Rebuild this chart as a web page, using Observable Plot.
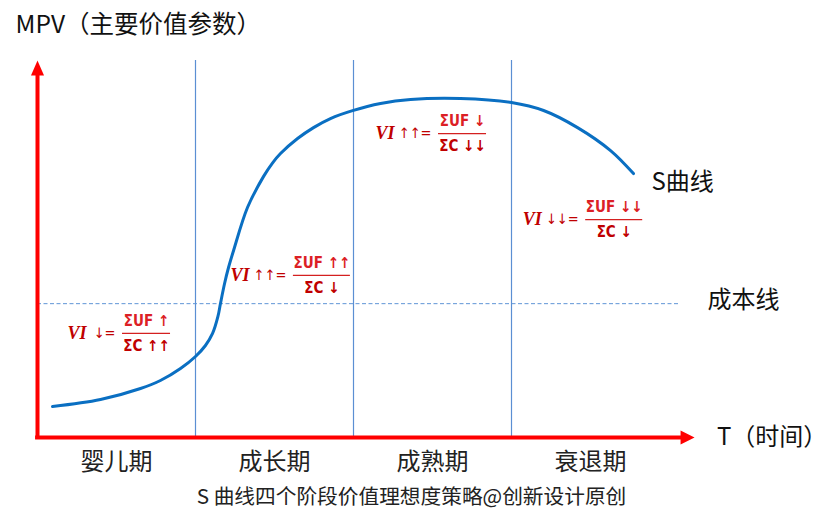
<!DOCTYPE html>
<html><head><meta charset="utf-8">
<script src="https://cdn.jsdelivr.net/npm/d3@7"></script>
<script src="https://cdn.jsdelivr.net/npm/@observablehq/plot@0.6"></script>
<style>body{margin:0;background:#fff} svg{display:block}</style>
</head><body><div id="chart"></div>
<script>
// ---- data ----
const phases = ["婴儿期", "成长期", "成熟期", "衰退期"];
const phaseBounds = [1, 2, 3];
const curveT   = [0.095, 0.399, 0.652, 0.778, 0.905, 1.000, 1.063, 1.108, 1.142, 1.158, 1.184, 1.209, 1.241, 1.329, 1.430, 1.487, 1.538, 1.646, 1.747, 1.854, 1.994, 2.171, 2.361, 2.677, 3.000, 3.203, 3.418, 3.627, 3.772];
const curveMPV = [8.22, 10.08, 13.0, 15.12, 18.3, 21.49, 24.4, 27.59, 32.1, 35.54, 40.85, 45.09, 49.6, 61.0, 69.2, 72.8, 75.33, 79.3, 82.2, 84.6, 86.7, 88.6, 89.66, 89.92, 88.86, 86.74, 82.2, 76.1, 70.0];
const costLevel = 35.5;
const viArrows = ["↓", "↑↑", "↑↑", "↓↓"];
const ufArrows = ["↑", "↑↑", "↓", "↓↓"];
const cArrows  = ["↑↑", "↓", "↓↓", "↓"];
const formulaT   = [0.69, 1.80, 2.69, 3.65];
const formulaMPV = [27.6, 43.0, 80.6, 57.8];
const yTitle = "MPV（主要价值参数）";
const xTitle = "T（时间）";
const curveLabel = "S曲线";
const costLabel = "成本线";
const captionText = "S 曲线四个阶段价值理想度策略@创新设计原创";

// ---- layout ----
const W = 832, H = 524, mL = 37, mR = 5, mT = 60, mB = 87;
const tMax = 5;
const unit = (W - mL - mR) / tMax;
const cjk = "'Noto Sans CJK SC', 'Noto Sans', sans-serif";
const curve = curveT.map((t, i) => ({t, v: curveMPV[i]}));
const fracFont = "'DejaVu Sans Condensed', 'DejaVu Sans', sans-serif";

const formulaMarks = formulaT.flatMap((t, i) => {
  const d = [{t, v: formulaMPV[i]}];
  const half = (19.5 + 4.5 * ufArrows[i].length) / unit;
  const viOff = 47 + 8 * viArrows[i].length;
  return [
    Plot.ruleY(d, {x1: e => e.t - half, x2: e => e.t + half, y: "v", stroke: "#d42020", strokeWidth: 1.3}),
    Plot.text(d, {x: "t", y: "v", text: () => "ΣUF " + ufArrows[i], dy: -12, fontSize: 15, fontWeight: "bold", fontFamily: fracFont, fill: "#dc1f26"}),
    Plot.text(d, {x: "t", y: "v", text: () => "ΣC " + cArrows[i], dy: 13, fontSize: 15, fontWeight: "bold", fontFamily: fracFont, fill: "#c00000"}),
    Plot.text(d, {x: e => e.t - half, y: "v", text: () => viArrows[i] + "=", textAnchor: "end", dx: -7, fontSize: 14.5, fontFamily: fracFont, fill: "#c00000"}),
    Plot.text(d, {x: e => e.t - half, y: "v", text: () => "VI", textAnchor: "start", dx: -viOff, fontSize: 18, fontWeight: "bold", fontStyle: "italic", fontFamily: "'Liberation Serif', serif", fill: "#c00000"})
  ];
});

const chart = Plot.plot({
  width: W, height: H,
  marginLeft: mL, marginRight: mR, marginTop: mT, marginBottom: mB,
  x: {domain: [0, tMax], axis: null},
  y: {domain: [0, 100], axis: null},
  style: {fontFamily: cjk, background: "#fff", overflow: "visible"},
  marks: [
    Plot.ruleX(phaseBounds, {y1: 0, y2: 100, stroke: "#5b8fd3", strokeWidth: 1.2}),
    Plot.ruleY([costLevel], {x1: 0, x2: 4.07, stroke: "#5f95d6", strokeWidth: 1, strokeDasharray: "4,2.5"}),
    Plot.line(curve, {x: "t", y: "v", curve: "catmull-rom", stroke: "#0a6fc2", strokeWidth: 3}),
    Plot.ruleX([0], {y1: -0.5, y2: 96.5, stroke: "#ff0000", strokeWidth: 4}),
    Plot.ruleY([0], {x1: -0.012, x2: 4.08, stroke: "#ff0000", strokeWidth: 4}),
    Plot.vector([{t: 0, v: 96}], {x: "t", y: "v", length: 15, rotate: 0, shape: "spike", r: 6.5, anchor: "start", fill: "#ff0000", stroke: "none"}),
    Plot.vector([{t: 4.07, v: 0}], {x: "t", y: "v", length: 14, rotate: 90, shape: "spike", r: 7, anchor: "start", fill: "#ff0000", stroke: "none"}),
    ...formulaMarks,
    Plot.text(phases, {x: (d, i) => i + 0.5, y: 0, text: d => d, dy: 25, fontSize: 24, fill: "#222"}),
    Plot.text([xTitle], {x: 4.30, y: 0, text: d => d, textAnchor: "start", fontSize: 24, fill: "#111"}),
    Plot.text([curveLabel], {x: 3.886, y: 67.6, text: d => d, textAnchor: "start", fontSize: 24, fill: "#111"}),
    Plot.text([costLabel], {x: 4.24, y: costLevel, text: d => d, textAnchor: "start", dy: -3, fontSize: 24, fill: "#111"}),
    Plot.text([yTitle], {frameAnchor: "top-left", text: d => d, textAnchor: "start", lineAnchor: "middle", dx: -22, dy: -35, fontSize: 24.5, fill: "#111"}),
    Plot.text([captionText], {frameAnchor: "bottom-left", text: d => d, textAnchor: "middle", lineAnchor: "middle", dx: 411 - mL, dy: 60, fontSize: 20.7, fill: "#222"})
  ]
});
document.getElementById("chart").append(chart);
</script>
</body></html>
